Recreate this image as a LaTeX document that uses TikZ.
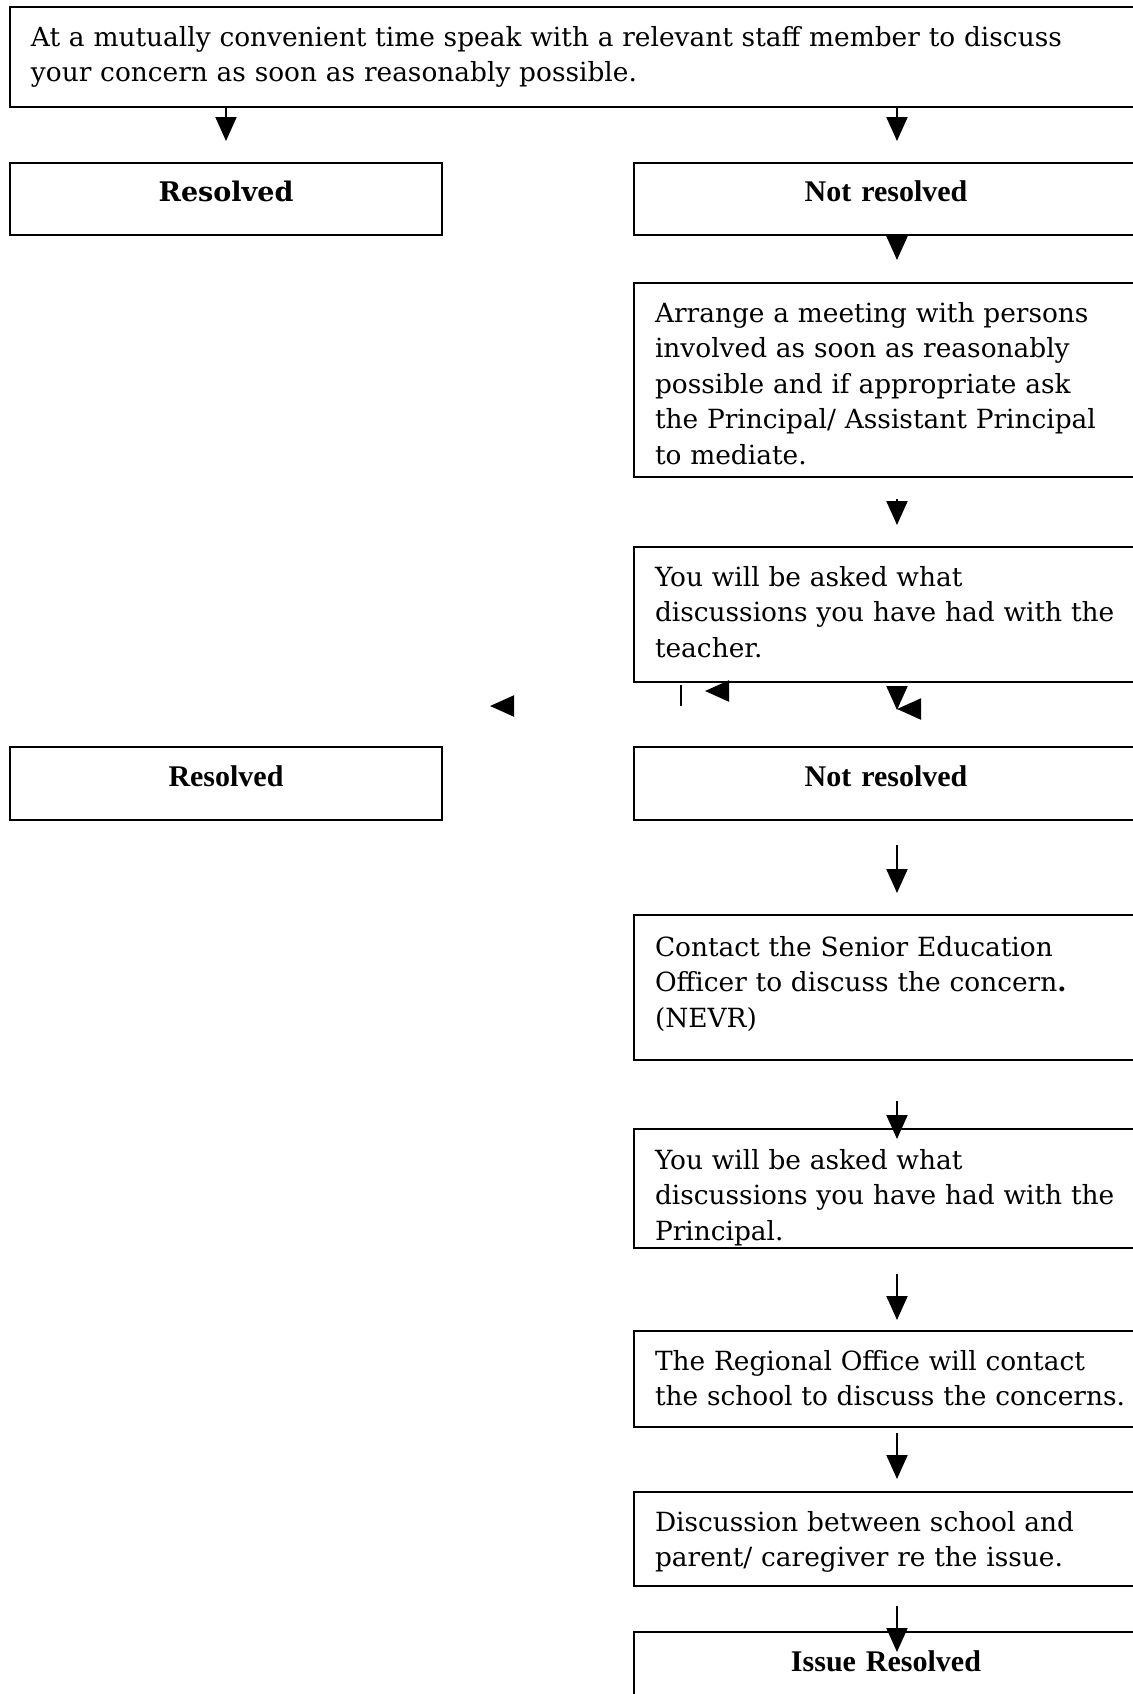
\documentclass[tikz,border=0pt]{standalone}
\usepackage{fontspec}
\setmainfont{DejaVu Serif}
\newfontfamily\labelfont{Liberation Serif}
\usetikzlibrary{arrows.meta}

\begin{document}
\begin{tikzpicture}[
        x=0.5pt, y=-0.5pt,
        every node/.style={font=\fontsize{13.2}{17.75}\selectfont},
        box/.style={draw, line width=1pt, rectangle, anchor=north west, inner xsep=10.5pt, inner ysep=0pt, align=left, text height=19.5pt},
        wide/.style={box, text width=560pt},
        side/.style={box, text width=245pt},
        tag/.style={draw, line width=1pt, rectangle, anchor=north west, inner sep=0pt, align=center, font=\labelfont\fontsize{15}{18}\selectfont\bfseries, text height=19.5pt, text depth=17pt},
        arr/.style={line width=1pt, -{Triangle[width=10.5pt, length=12pt]}}
    ]
    \useasboundingbox (0,0) rectangle (1133,1694);

    % column of the right-hand arrows
    \coordinate (col) at (897,0);

    \node[wide, text depth=30.5pt] (intro) at (9,6) {At a mutually convenient time speak with a relevant staff member to discuss\\your concern as soon as reasonably possible.};

    \node[tag, text width=216pt, text height=19pt, font=\fontsize{13.5}{16}\selectfont\bfseries] (resolvedA) at (9,162) {Resolved};
    \node[tag, text width=252pt, text height=19pt] (notresA) at (633,162) {Not resolved};

    \node[side, text depth=77.5pt] (arrange) at (633,282) {Arrange a meeting with persons\\involved as soon as reasonably\\possible and if appropriate ask\\the Principal/ Assistant Principal\\to mediate.};
    \node[side, text depth=48pt] (askteacher) at (633,546) {You will be asked what\\discussions you have had with the\\teacher.};

    \node[tag, text width=216pt] (resolvedB) at (9,746) {Resolved};
    \node[tag, text width=252pt] (notresB) at (633,746) {Not resolved};

    \node[side, text height=20.5pt, text depth=52pt] (contact) at (633,914) {Contact the Senior Education\\Officer to discuss the concern\textbf{.}\\(NEVR)};
    \node[side, text height=20pt, text depth=39.5pt] (askprincipal) at (633,1128) {You will be asked what\\discussions you have had with the\\Principal.};
    \node[side, text depth=28.5pt] (regional) at (633,1330) {The Regional Office will contact\\the school to discuss the concerns.};
    \node[side, text depth=27.5pt] (discussion) at (633,1491) {Discussion between school and\\parent/ caregiver re the issue.};
    \node[tag, text width=252pt, text depth=30pt] (issue) at (633,1631) {Issue Resolved};

    \draw[arr] (intro.south -| resolvedA.north) -- ++(0,33);
    \draw[arr] (intro.south -| col) -- ++(0,33);
    \draw[arr] (notresA.south -| col) -- ++(0,24);
    \draw[arr] (arrange.south -| col) ++(0,21) -- ++(0,26);

    % stray heads under the teacher box
    \draw[arr] (512,706) -- (490,706);
    \draw[line width=1pt] (681,685) -- (681,706);
    \draw[arr] (726,691) -- (705,691);
    \draw[arr] (askteacher.south -| col) ++(0,4) -- ++(0,23);
    \draw[arr] (918,709) -- (897,709);

    \draw[arr] (notresB.south -| col) ++(0,24) -- ++(0,48);
    \draw[arr] (contact.south -| col) ++(0,40) -- ++(0,38);
    \draw[arr] (askprincipal.south -| col) ++(0,25) -- ++(0,46);
    \draw[arr] (regional.south -| col) ++(0,5) -- ++(0,46);
    \draw[arr] (discussion.south -| col) ++(0,19) -- ++(0,46);
\end{tikzpicture}
\end{document}
